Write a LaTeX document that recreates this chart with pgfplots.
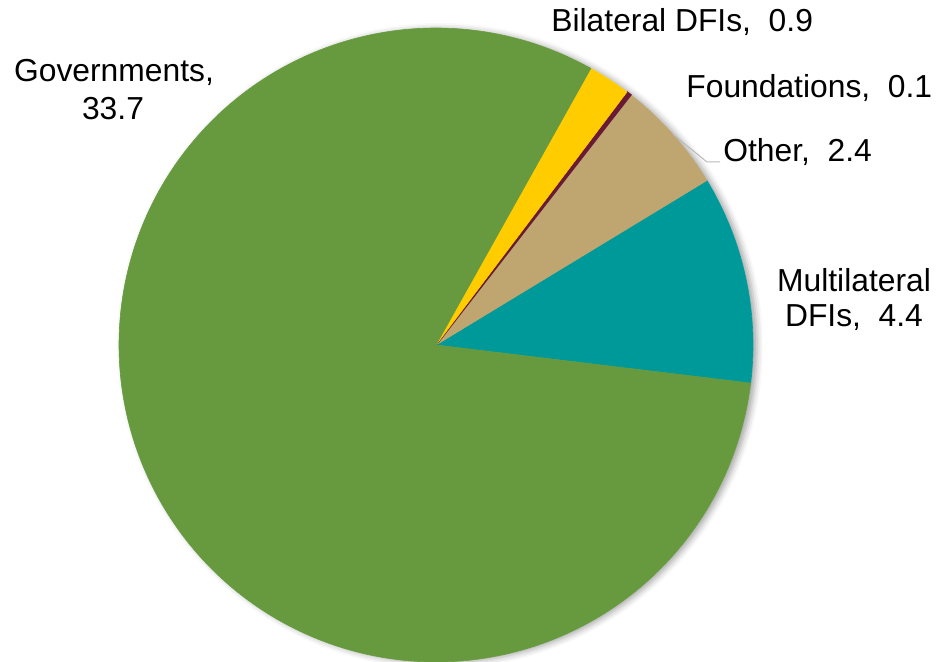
\documentclass[border=0pt]{standalone}
\usepackage{pgfplots}
\pgfplotsset{compat=1.18}
\usepackage{fontspec}
\setmainfont{Liberation Sans}
\usetikzlibrary{shadows.blur}
\definecolor{cGov}{RGB}{103,154,63}
\definecolor{cBil}{RGB}{255,204,0}
\definecolor{cFou}{RGB}{105,26,52}
\definecolor{cOth}{RGB}{191,165,111}
\definecolor{cMul}{RGB}{0,153,153}
% values (USD bn)
\def\vMul{4.4}
\def\vOth{2.4}
\def\vFou{0.1}
\def\vBil{0.9}
\def\vGov{33.7}
\pgfmathsetmacro\tot{\vMul+\vOth+\vFou+\vBil+\vGov}
\pgfmathsetmacro\aA{-6.9}
\pgfmathsetmacro\aB{\aA+360*\vMul/\tot}
\pgfmathsetmacro\aC{\aB+360*\vOth/\tot}
\pgfmathsetmacro\aD{\aC+360*\vFou/\tot}
\pgfmathsetmacro\aE{\aD+360*\vBil/\tot}
\pgfmathsetmacro\aF{\aE+360*\vGov/\tot}
\pgfmathsetmacro\aOthMid{(\aB+\aC)/2}
\begin{document}
\begin{tikzpicture}
\useasboundingbox (0,0) rectangle (468pt,331pt);
\begin{axis}[at={(0,0)}, anchor=south west, x=0.5pt, y=0.5pt,
  xmin=0, xmax=936, ymin=0, ymax=662, hide axis, clip=false,
  every axis plot/.append style={line width=0.3pt}]
\path[fill=white, blur shadow={shadow xshift=2pt, shadow yshift=-0.5pt, shadow blur radius=3pt, shadow opacity=35}] (axis cs:436,317) circle[radius=317];
\addplot[fill=cMul, draw=cMul, domain=\aA:\aB, samples=60] ({436+317*cos(x)},{317+317*sin(x)}) -- (axis cs:436,317) -- cycle;
\addplot[fill=cOth, draw=cOth, domain=\aB:\aC, samples=40] ({436+317*cos(x)},{317+317*sin(x)}) -- (axis cs:436,317) -- cycle;
\addplot[fill=cFou, draw=cFou, line width=0.8pt, domain=\aC:\aD, samples=5] ({436+317*cos(x)},{317+317*sin(x)}) -- (axis cs:436,317) -- cycle;
\addplot[fill=cBil, draw=cBil, domain=\aD:\aE, samples=20] ({436+317*cos(x)},{317+317*sin(x)}) -- (axis cs:436,317) -- cycle;
\addplot[fill=cGov, draw=cGov, domain=\aE:\aF, samples=300] ({436+317*cos(x)},{317+317*sin(x)}) -- (axis cs:436,317) -- cycle;
\draw[gray!55, line width=0.5pt] (axis cs:{436+317*cos(\aOthMid)},{317+317*sin(\aOthMid)}) -- (axis cs:707,500) -- (axis cs:720,500);
\begin{scope}[every node/.style={anchor=base, inner sep=0pt, font=\fontsize{15.9}{18}\selectfont}]
\node at (axis cs:114,580) {Governments,};
\node at (axis cs:113,542) {33.7};
\node[anchor=base west] at (axis cs:551,630) {Bilateral DFIs,\ \ 0.9};
\node[anchor=base west] at (axis cs:686,564) {Foundations,\ \ 0.1};
\node[anchor=base west] at (axis cs:723,500) {Other,\ \ 2.4};
\node at (axis cs:854,370) {Multilateral};
\node at (axis cs:854,335) {DFIs,\ \ 4.4};
\end{scope}
\end{axis}
\end{tikzpicture}
\end{document}
